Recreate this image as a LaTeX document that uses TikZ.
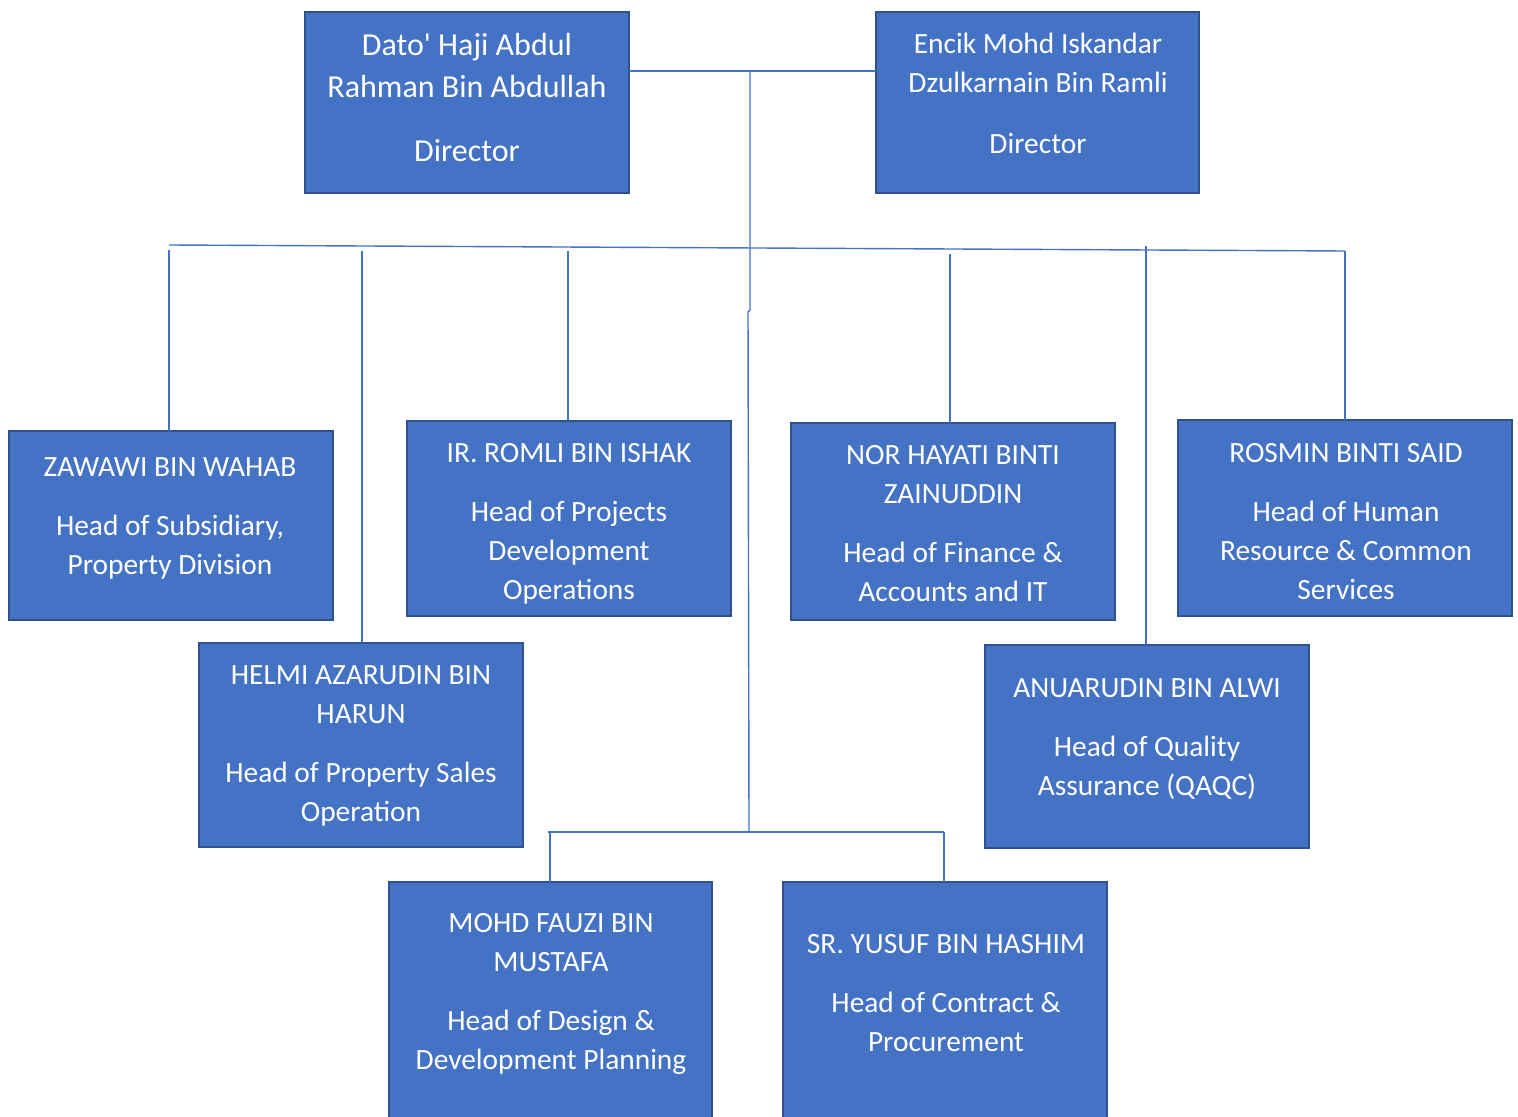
\documentclass[tikz,border=0pt]{standalone}
\usepackage{fontspec}
\setmainfont{Carlito}[Ligatures=TeXOff]
\definecolor{boxfill}{HTML}{4472C4}
\definecolor{boxline}{HTML}{2F528F}
\definecolor{conn}{HTML}{4472C4}
\begin{document}
\begin{tikzpicture}[x=0.5pt,y=-0.5pt,
  box/.style={draw=boxline,fill=boxfill,line width=1.1pt,inner sep=0pt},
  txt/.style={text=white,align=center,inner sep=0pt,font=\fontsize{14.7}{19.5}\selectfont},
  txtbig/.style={text=white,align=center,inner sep=0pt,font=\fontsize{16}{21}\selectfont},
  wire/.style={draw=conn,line width=0.7pt}]
\useasboundingbox (0,0) rectangle (1518,1117);
% boxes
\path[box] (305,12) rectangle (629,193) node[pos=0.5,inner sep=0pt] (dato) {};
\path[box] (876,12) rectangle (1199,193) node[pos=0.5,inner sep=0pt] (encik) {};
\path[box] (9,431) rectangle (333,620) node[pos=0.5,inner sep=0pt] (zawawi) {};
\path[box] (407,421) rectangle (731,616) node[pos=0.5,inner sep=0pt] (romli) {};
\path[box] (791,423) rectangle (1115,620) node[pos=0.5,inner sep=0pt] (nor) {};
\path[box] (1178,420) rectangle (1512,616) node[pos=0.5,inner sep=0pt] (rosmin) {};
\path[box] (199,643) rectangle (523,847) node[pos=0.5,inner sep=0pt] (helmi) {};
\path[box] (985,645) rectangle (1309,848) node[pos=0.5,inner sep=0pt] (anuar) {};
\path[box] (389,882) rectangle (712,1125) node[pos=0.5,inner sep=0pt] (fauzi) {};
\path[box] (783,882) rectangle (1107,1125) node[pos=0.5,inner sep=0pt] (yusuf) {};
% coordinates for box tops
\coordinate (zawawiT) at (169,431);
\coordinate (helmiT) at (362,643);
\coordinate (romliT) at (568,421);
\coordinate (norT) at (950,423);
\coordinate (anuarT) at (1146,645);
\coordinate (rosminT) at (1345,420);
\coordinate (fauziT) at (550,882);
\coordinate (yusufT) at (944,882);
\coordinate (datoR) at (629,71);
\coordinate (encikL) at (876,71);
\coordinate (hub) at (750,71);
\coordinate (low) at (749,832);
\coordinate (hL) at (169,245);
\coordinate (hR) at (1345,251);
\coordinate (bL) at (548,832);
\coordinate (bR) at (944,832);
% connectors
\draw[wire] (datoR) -- (encikL);
\draw[wire] (hub) -- (750,310) -- (748,312) -- (low);
\draw[wire] (hL) -- (hR);
\draw[wire] (169,250) -- (zawawiT);
\draw[wire] (362,251) -- (helmiT);
\draw[wire] (568,251) -- (romliT);
\draw[wire] (950,254) -- (norT);
\draw[wire] (1146,246) -- (anuarT);
\draw[wire] (hR) -- (rosminT);
\draw[wire] (bL) -- (bR);
\draw[wire] (550,832) -- (fauziT);
\draw[wire] (bR) -- (yusufT);
% texts
\node[txtbig] (t1) at (467,97.5) {Dato' Haji Abdul\\Rahman Bin Abdullah\\[11pt]Director};
\node[txt] (t2) at (1038,93) {Encik Mohd Iskandar\\Dzulkarnain Bin Ramli\\[11pt]Director};
\node[txt] (t3) at (170,518) {ZAWAWI BIN WAHAB\\[10pt]Head of Subsidiary,\\Property Division};
\node[txt] (t4) at (569,523.5) {IR. ROMLI BIN ISHAK\\[10pt]Head of Projects\\Development\\Operations};
\node[txt] (t5) at (953,524) {NOR HAYATI BINTI\\ZAINUDDIN\\[10pt]Head of Finance \&\\Accounts and IT};
\node[txt] (t6) at (1346,521.5) {ROSMIN BINTI SAID\\[10pt]Head of Human\\Resource \& Common\\Services};
\node[txt] (t7) at (361,745.5) {HELMI AZARUDIN BIN\\HARUN\\[10pt]Head of Property Sales\\Operation};
\node[txt] (t8) at (1147,739) {ANUARUDIN BIN ALWI\\[10pt]Head of Quality\\Assurance (QAQC)};
\node[txt] (t9) at (551,994) {MOHD FAUZI BIN\\MUSTAFA\\[10pt]Head of Design \&\\Development Planning};
\node[txt] (t10) at (946,993) {SR. YUSUF BIN HASHIM\\[10pt]Head of Contract \&\\Procurement};
\end{tikzpicture}
\end{document}
